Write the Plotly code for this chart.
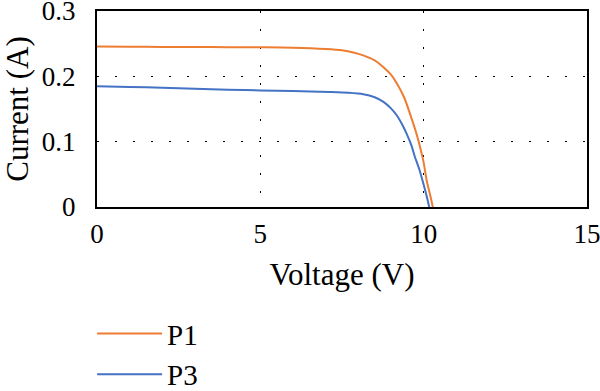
import plotly.graph_objects as go

p1_v = [0, 1, 2, 3, 4, 5, 6, 7, 7.5, 7.85, 8.15, 8.5, 8.77, 9.0, 9.18, 9.4, 9.58, 9.75, 9.89, 10.0, 10.09, 10.2, 10.28]
p1_i = [0.2455, 0.2453, 0.245, 0.2448, 0.2446, 0.2444, 0.2438, 0.2418, 0.2398, 0.2365, 0.232, 0.2245, 0.214, 0.2025, 0.189, 0.168, 0.143, 0.117, 0.092, 0.068, 0.041, 0.018, 0.0]

p3_v = [0, 1, 2, 3, 4, 5, 6, 7.13, 7.7, 8.15, 8.5, 8.77, 9.0, 9.18, 9.35, 9.48, 9.62, 9.73, 9.87, 9.99, 10.1, 10.17]
p3_i = [0.185, 0.1838, 0.1825, 0.181, 0.1795, 0.1785, 0.1775, 0.176, 0.1748, 0.1726, 0.168, 0.161, 0.151, 0.140, 0.1255, 0.112, 0.095, 0.077, 0.057, 0.036, 0.015, 0.0]

x_ticks = [0, 5, 10, 15]
y_ticks = [0, 0.1, 0.2, 0.3]
y_tick_text = ["0", "0.1", "0.2", "0.3"]

FONT = "Liberation Serif"

fig = go.Figure()
fig.add_trace(go.Scatter(x=p1_v, y=p1_i, mode="lines", name="P1",
                         line=dict(color="#ED7D31", width=2, shape="spline", smoothing=0.8)))
fig.add_trace(go.Scatter(x=p3_v, y=p3_i, mode="lines", name="P3",
                         line=dict(color="#4472C4", width=2, shape="spline", smoothing=0.8)))

axis_common = dict(showline=True, linecolor="black", linewidth=2, mirror=True,
                   showgrid=True, gridcolor="black", gridwidth=1, griddash="2px,16px",
                   zeroline=False, ticks="", automargin=False, ticklabeloverflow="allow",
                   tickfont=dict(family=FONT, size=27, color="black"))

fig.update_xaxes(range=[0, 15], tickvals=x_ticks, ticklabelstandoff=2,
                 title=dict(text="Voltage (V)", font=dict(family=FONT, size=31, color="black"), standoff=15),
                 **axis_common)
fig.update_yaxes(range=[0, 0.3], tickvals=y_ticks, ticktext=y_tick_text, ticklabelstandoff=14,
                 title=dict(text="Current (A)", font=dict(family=FONT, size=31, color="black"), standoff=15),
                 **axis_common)

fig.update_layout(
    width=600, height=391,
    margin=dict(l=97, r=13, t=11, b=184, autoexpand=False),
    paper_bgcolor="white", plot_bgcolor="white",
    showlegend=True,
    legend=dict(x=-0.01, y=0.212, xanchor="left", yanchor="top", orientation="v",
                yref="container",
                font=dict(family=FONT, size=29, color="black"), bgcolor="rgba(0,0,0,0)",
                tracegroupgap=0, itemwidth=65),
)

fig.write_html("out.html", config={"displayModeBar": False},
               post_script="document.body.style.margin='0';")
